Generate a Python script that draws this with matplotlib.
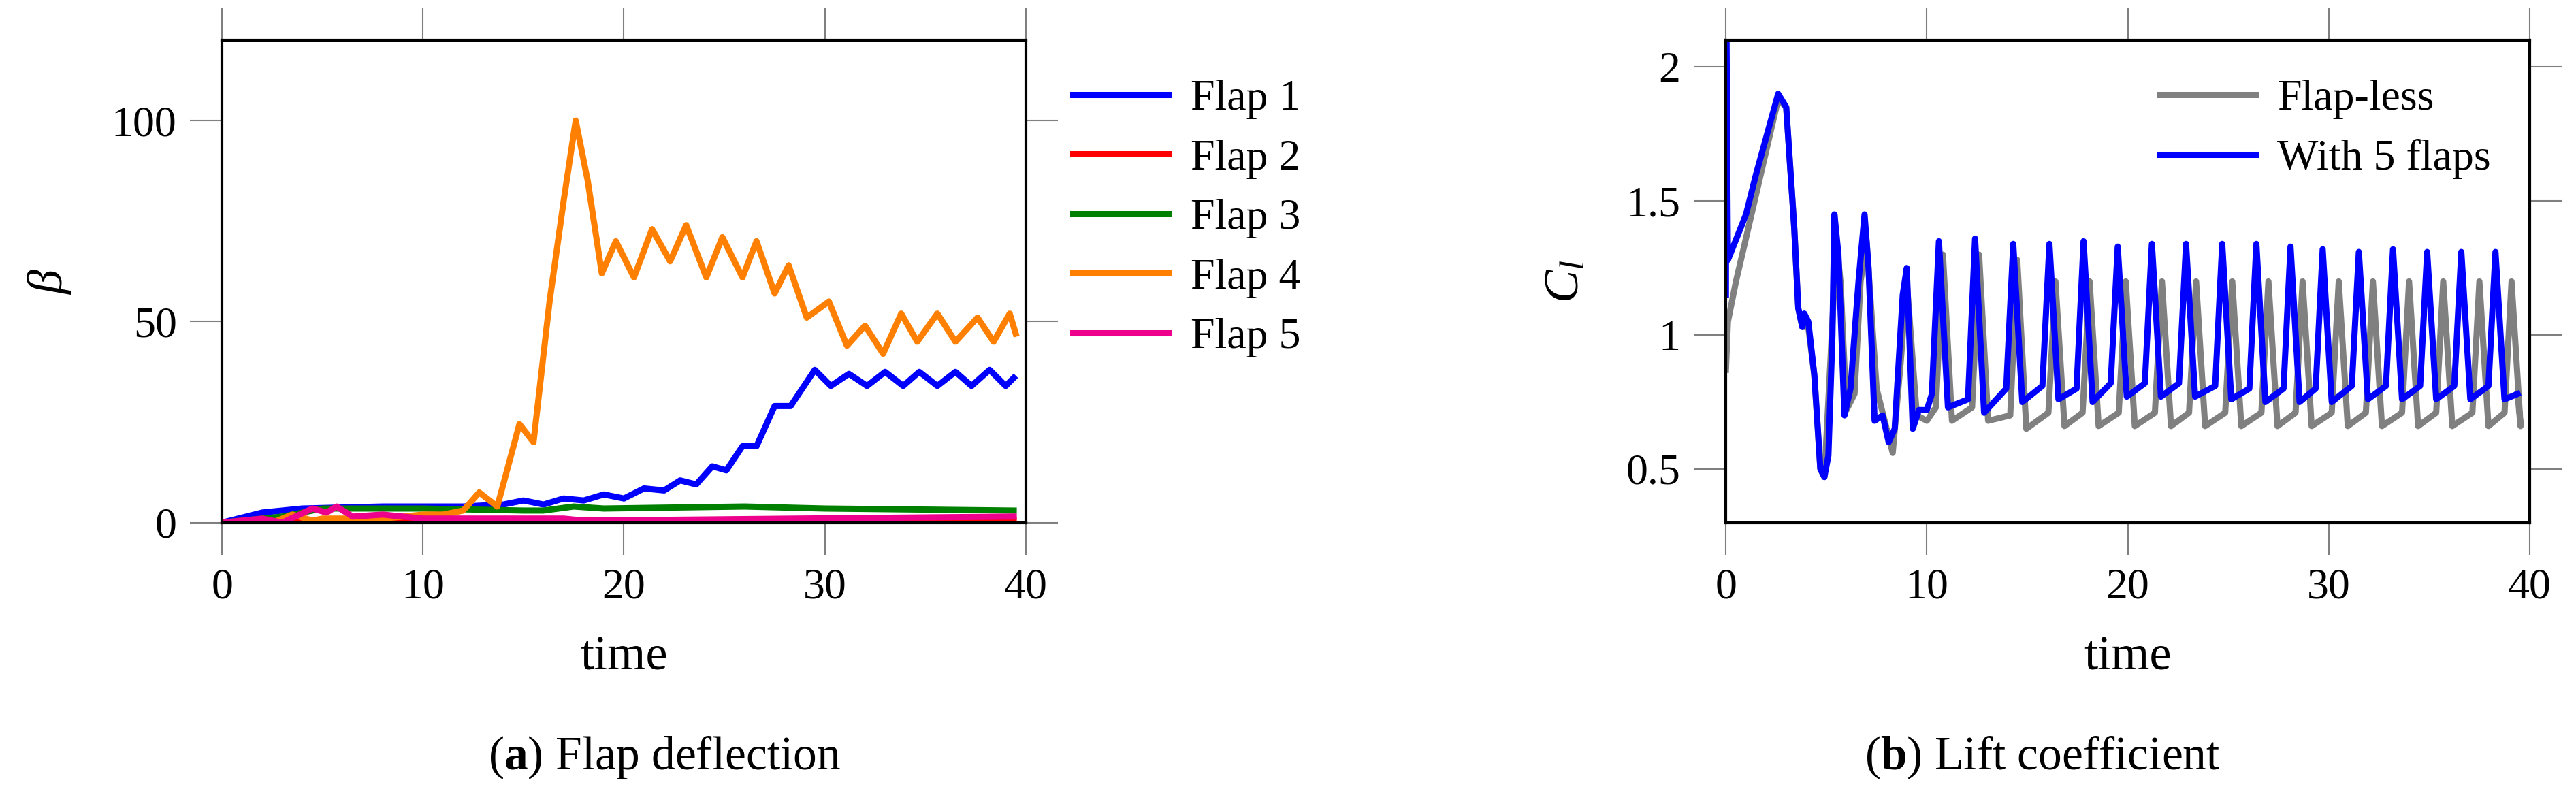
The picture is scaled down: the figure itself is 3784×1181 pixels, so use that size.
import matplotlib.pyplot as plt
import numpy as np

plt.rcParams['font.family'] = ['Liberation Serif', 'DejaVu Serif']
plt.rcParams['mathtext.fontset'] = 'custom'
plt.rcParams['mathtext.rm'] = 'Liberation Serif'
plt.rcParams['mathtext.it'] = 'Liberation Serif:italic'
plt.rcParams['mathtext.bf'] = 'Liberation Serif:bold'

# ---- (a) flap deflection, key points (time, beta)
flap1_t = [0, 2, 4, 8, 12, 14, 15, 16, 17, 18, 19, 20, 21, 22, 22.8, 23.6, 24.4, 25.1, 25.9, 26.6, 27.5, 28.3,
           29.5, 30.3, 31.2, 32.1, 33, 33.9, 34.7, 35.6, 36.5, 37.3, 38.2, 39, 39.4]
flap1_b = [0, 2.5, 3.5, 4, 4, 4.5, 5.5, 4.5, 6, 5.5, 7, 6, 8.5, 8, 10.5, 9.5, 14, 13, 19, 19, 29, 29,
           38, 34, 37, 34, 37.5, 34, 37.5, 34, 37.5, 34, 38, 34, 36]
flap2_t = [0, 3, 10, 20, 39.4]
flap2_b = [0, 0.5, 1, 0.5, 0.5]
flap3_t = [0, 3, 5, 10, 15, 16, 17.5, 19, 26, 30, 39.4]
flap3_b = [0, 1.5, 3.5, 3.5, 3, 3, 4, 3.5, 4, 3.5, 3]
flap4_t = [0, 2.5, 3.5, 4.5, 5, 8, 10, 11, 12, 12.8, 13.7, 14.8, 15.5, 16.3, 17, 17.6, 18.2, 18.9, 19.6, 20.5,
           21.4, 22.3, 23.1, 24.1, 24.9, 25.9, 26.6, 27.5, 28.2, 29.1, 30.2, 31.1, 32, 32.9, 33.8, 34.6,
           35.6, 36.5, 37.6, 38.4, 39.2, 39.5]
flap4_b = [0, 0, 2, 0.5, 1, 1, 2, 2, 3, 7.5, 4, 24.5, 20, 55, 80, 100, 85, 62, 70, 61,
           73, 65, 74, 61, 71, 61, 70, 57, 64, 51, 55, 44, 49, 42, 52, 45,
           52, 45, 51, 45, 52, 47]
flap5_t = [0, 2, 3, 4.5, 5.2, 5.7, 6.5, 8, 10, 17, 18, 39.4]
flap5_b = [0, 1, 0, 3.5, 2.5, 4, 1.5, 2, 1, 1, 0.5, 1.5]

# ---- (b) lift coefficient
blue_start_t = [0, 0.02, 0.1, 1, 1.5, 2.6, 3, 3.4, 3.6, 3.8, 3.9, 4.1, 4.4, 4.7, 4.9, 5.1, 5.3, 5.4, 5.6, 5.9,
                6.2, 6.6, 6.9, 7.1, 7.4, 7.8, 8.1, 8.4, 8.8, 9.0, 9.3, 9.6, 10.0]
blue_start_c = [1.15, 2.1, 1.28, 1.45, 1.6, 1.9, 1.85, 1.4, 1.1, 1.03, 1.08, 1.05, 0.85, 0.5, 0.47, 0.55, 1.0, 1.45, 1.3, 0.7,
                0.8, 1.2, 1.45, 1.25, 0.68, 0.7, 0.6, 0.65, 1.15, 1.25, 0.65, 0.72, 0.72]
blue_peak_t = [10.6, 12.4, 14.3, 16.1, 17.8, 19.5, 21.2, 22.9, 24.7, 26.4, 28.1, 29.7, 31.5, 33.2, 34.9, 36.6, 38.3]
blue_peak_c = [1.35, 1.36, 1.34, 1.34, 1.35, 1.33, 1.34, 1.34, 1.34, 1.34, 1.33, 1.32, 1.31, 1.32, 1.31, 1.31, 1.31]
blue_trough_c = [0.73, 0.71, 0.75, 0.76, 0.75, 0.77, 0.77, 0.77, 0.76, 0.75, 0.75, 0.75, 0.76, 0.76, 0.76, 0.76, 0.76]
blue_end = (39.4, 0.78)

gray_start_t = [0, 0.1, 0.5, 2.6, 3, 3.4, 3.6, 3.8, 4.1, 4.4, 4.7, 4.9, 5.2, 5.5, 5.7, 6.0, 6.4, 6.7, 7.0, 7.5,
                8.0, 8.3, 8.7, 9.0, 9.5, 10.0]
gray_start_c = [0.87, 1.05, 1.2, 1.88, 1.85, 1.4, 1.1, 1.03, 1.03, 0.85, 0.5, 0.47, 0.9, 1.35, 1.2, 0.72, 0.78, 1.2, 1.35, 0.8,
                0.65, 0.56, 0.9, 1.2, 0.7, 0.68]
gray_peak_t = [10.8, 12.6, 14.5, 16.4, 18.1, 19.9, 21.7, 23.4, 25.2, 27.0, 28.7, 30.5, 32.2, 34.0, 35.7, 37.5, 39.1]
gray_peak_c = [1.3, 1.3, 1.28, 1.2, 1.2, 1.2, 1.2, 1.2, 1.2, 1.2, 1.2, 1.2, 1.2, 1.2, 1.2, 1.2, 1.2]
gray_trough_c = [0.68, 0.68, 0.65, 0.66, 0.66, 0.66, 0.66, 0.66, 0.66, 0.66, 0.66, 0.66, 0.66, 0.66, 0.66, 0.66, 0.66]
gray_end = (39.4, 0.78)


def periodic(start_t, start_c, peak_t, peak_c, trough_c, end, rise=0.35, fall=0.45):
    t, c = list(start_t), list(start_c)
    for pt, pc, tc in zip(peak_t, peak_c, trough_c):
        t += [pt - rise, pt, pt + fall]
        c += [tc + 0.05, pc, tc]
    t.append(end[0])
    c.append(end[1])
    return t, c


fig = plt.figure(figsize=(37.84, 11.81), dpi=100)
ax1 = fig.add_axes([0.0862, 0.350, 0.312, 0.600])
ax2 = fig.add_axes([0.670, 0.350, 0.312, 0.600])

lw = 6.5
ax1.plot(flap1_t, flap1_b, color='#0000ff', lw=lw, label='Flap 1')
ax1.plot(flap2_t, flap2_b, color='#ff0000', lw=lw, label='Flap 2')
ax1.plot(flap3_t, flap3_b, color='#008000', lw=lw, label='Flap 3')
ax1.plot(flap4_t, flap4_b, color='#ff8000', lw=lw, label='Flap 4')
ax1.plot(flap5_t, flap5_b, color='#ec008c', lw=lw, label='Flap 5')
ax1.set_xlim(0, 40)
ax1.set_ylim(0, 120)
ax1.set_xticks([0, 10, 20, 30, 40])
ax1.set_yticks([0, 50, 100])
ax1.set_ylabel(r'$\beta$', fontsize=52, labelpad=40)
ax1.set_xlabel('time', fontsize=52, labelpad=30)
ax1.legend(loc='upper left', bbox_to_anchor=(1.01, 1.0), frameon=False, fontsize=46,
           handlelength=2.2, labelspacing=0.45, handletextpad=0.5)

gt, gc = periodic(gray_start_t, gray_start_c, gray_peak_t, gray_peak_c, gray_trough_c, gray_end)
bt, bc = periodic(blue_start_t, blue_start_c, blue_peak_t, blue_peak_c, blue_trough_c, blue_end)
ax2.plot(gt, gc, color='#808080', lw=lw, label='Flap-less')
ax2.plot(bt, bc, color='#0000ff', lw=lw, label='With 5 flaps')
ax2.set_xlim(0, 40)
ax2.set_ylim(0.3, 2.1)
ax2.set_xticks([0, 10, 20, 30, 40])
ax2.set_yticks([0.5, 1, 1.5, 2])
ax2.set_yticklabels(['0.5', '1', '1.5', '2'])
ax2.set_ylabel(r'$C_l$', fontsize=52, labelpad=40)
ax2.set_xlabel('time', fontsize=52, labelpad=30)
ax2.legend(loc='upper right', frameon=False, fontsize=46, handlelength=2.2,
           labelspacing=0.45, handletextpad=0.5)

for ax in (ax1, ax2):
    ax.tick_params(direction='out', length=34, width=1.5, color='#808080', labelsize=46,
                   top=True, right=True, pad=14)
    for s in ax.spines.values():
        s.set_linewidth(3)

fig.text(0.258, 0.043, r'($\mathbf{a}$) Flap deflection', ha='center', fontsize=50)
fig.text(0.793, 0.043, r'($\mathbf{b}$) Lift coefficient', ha='center', fontsize=50)

fig.savefig('out.png', dpi=100)
